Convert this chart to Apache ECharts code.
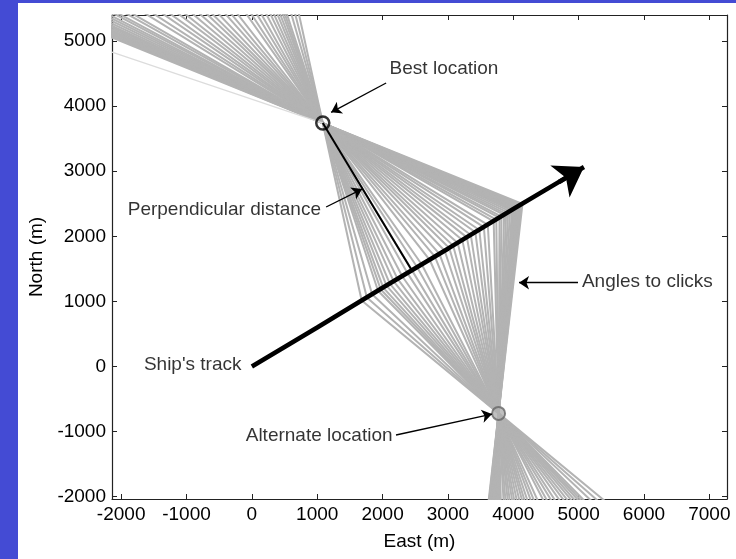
<!DOCTYPE html>
<html>
<head>
<meta charset="utf-8">
<script src="https://cdn.jsdelivr.net/npm/echarts@6/dist/echarts.min.js"></script>
<style>
html,body{margin:0;padding:0;background:#444bd4;width:736px;height:559px;overflow:hidden;}
#main{position:absolute;left:18px;top:3px;width:718px;height:556px;background:#fff;}
</style>
</head>
<body>
<div id="main"></div>
<script>
// ship track (m)
var track_x = [0, 1000, 2000, 3000, 4000, 4900];
var track_y = [0, 600, 1210, 1810, 2420, 2956];
// arrow head of the track
var head_from = [4700, 2835],
	head_to = [5081, 3065];

// the two candidate positions
var best_loc = [1085, 3740],
	alt_loc = [3775, -720];

// foot of the perpendicular on the track
var perp_foot = [2440, 1490];

// points on the track where clicks were heard
var click_x = [1680,1760,1840,1930,1970,2010,2060,2110,2170,2230,2300,2380,2450,2530,2600,2720,2800,2870,2950,3020,3080,3150,3220,3290,3350,3420,3480,3550,3610,3700,3740,3790,3820,3860,3890,3920,3950,3980,4000,4020,4040,4060,4080,4100,4120,4140];
var click_y = [1013,1061,1110,1164,1188,1212,1242,1272,1309,1345,1387,1435,1477,1526,1568,1640,1688,1731,1779,1821,1857,1899,1942,1984,2020,2062,2098,2141,2177,2231,2255,2285,2303,2328,2346,2364,2382,2400,2412,2424,2436,2448,2460,2472,2484,2496];

// faint single bearing in the upper left
var faint_x = [-2140, 1085],
	faint_y = [4830, 3740];

// annotation texts and where they sit
var note_text = ["Best location", "Perpendicular distance", "Angles to clicks", "Ship's track", "Alternate location"];
var note_x = [2940, -421, 6052, -905, 1029];
var note_y = [4570, 2404, 1298, 23, -1068];
// annotation arrows (from -> to)
var note_arrow_from = [[2054, 4355], [1136, 2450], [4990, 1287], [2206, -1052]];
var note_arrow_to = [[1213, 3905], [1686, 2726], [4088, 1287], [3674, -730]];

var x_min = -2140, x_max = 7270,
	y_min = -2035, y_max = 5400;

var FONT = "Liberation Sans, Arial, sans-serif";

var myChart = echarts.init(document.getElementById("main"));

// 每个click画两条线: 经过 best 和经过 alternate, 延长到图外
var series_list = [];
function add_bearing(tx, ty, loc){
	var far = [loc[0] + (loc[0] - tx) * 6, loc[1] + (loc[1] - ty) * 6];
	series_list.push({
		type: "line",
		data: [[tx, ty], loc, far],
		showSymbol: false,
		symbol: "none",
		clip: true,
		silent: true,
		lineStyle: {color: "#b3b3b3", width: 2},
		z: 1
	});
}
for (var i = 0; i < click_x.length; i++){
	add_bearing(click_x[i], click_y[i], best_loc);
	add_bearing(click_x[i], click_y[i], alt_loc);
}

series_list.push({
	type: "line",
	data: [[faint_x[0], faint_y[0]], [faint_x[1], faint_y[1]]],
	showSymbol: false,
	symbol: "none",
	silent: true,
	lineStyle: {color: "#dcdcdc", width: 1.2},
	z: 1
});

// ship track
var track_data = [];
for (var i = 0; i < track_x.length; i++){
	track_data.push([track_x[i], track_y[i]]);
}
series_list.push({
	type: "line",
	data: track_data,
	showSymbol: false,
	symbol: "none",
	lineStyle: {color: "#000", width: 4.5},
	z: 5
});
series_list.push({
	type: "lines",
	coordinateSystem: "cartesian2d",
	data: [{coords: [head_from, head_to]}],
	symbol: ["none", "arrow"],
	symbolSize: 28,
	lineStyle: {color: "#000", width: 4.5, opacity: 1},
	itemStyle: {color: "#000"},
	z: 6
});

// perpendicular distance
series_list.push({
	type: "line",
	data: [best_loc, perp_foot],
	showSymbol: false,
	symbol: "none",
	lineStyle: {color: "#000", width: 2},
	z: 4
});

// circles
series_list.push({
	type: "scatter",
	data: [best_loc],
	symbol: "circle",
	symbolSize: 13,
	itemStyle: {color: "rgba(0,0,0,0)", borderColor: "#000", borderWidth: 2.5},
	z: 7
});
series_list.push({
	type: "scatter",
	data: [alt_loc],
	symbol: "circle",
	symbolSize: 13,
	itemStyle: {color: "#b0b0b0", borderColor: "#666", borderWidth: 2},
	z: 7
});

// annotation arrows
var arrow_data = [];
for (var i = 0; i < note_arrow_from.length; i++){
	arrow_data.push({coords: [note_arrow_from[i], note_arrow_to[i]]});
}
series_list.push({
	type: "lines",
	coordinateSystem: "cartesian2d",
	data: arrow_data,
	symbol: ["none", "arrow"],
	symbolSize: 10,
	lineStyle: {color: "#000", width: 1.3, opacity: 1},
	itemStyle: {color: "#000"},
	z: 8
});

// annotation texts
var note_data = [];
for (var i = 0; i < note_text.length; i++){
	note_data.push({name: note_text[i], value: [note_x[i], note_y[i]]});
}
series_list.push({
	type: "scatter",
	data: note_data,
	symbolSize: 0,
	silent: true,
	label: {
		show: true,
		position: "inside",
		formatter: "{b}",
		color: "#000",
		textBorderWidth: 0,
		fontFamily: FONT,
		fontSize: 19
	},
	z: 9
});

function thousands(v){
	return (Math.abs(v % 1000) < 1e-6) ? String(v) : "";
}

var axis_common = {
	type: "value",
	minInterval: 1000,
	maxInterval: 1000,
	splitLine: {show: false},
	axisLine: {show: true, onZero: false, lineStyle: {color: "#222", width: 1.2}},
	axisTick: {show: true, inside: true, length: 5, lineStyle: {color: "#222", width: 1}}
};

option = {
	animation: false,
	grid: {left: 94, top: 12, width: 615, height: 484, containLabel: false},
	xAxis: [
		echarts.util.merge({
			position: "bottom",
			min: x_min, max: x_max,
			splitNumber: 9,
			name: "East (m)",
			nameLocation: "middle",
			nameGap: 33,
			nameTextStyle: {color: "#000", fontFamily: FONT, fontSize: 19},
			axisLabel: {color: "#000", fontFamily: FONT, fontSize: 19, margin: 6, formatter: thousands}
		}, axis_common, true),
		echarts.util.merge({
			position: "top",
			min: x_min, max: x_max,
			splitNumber: 9,
			axisLabel: {show: false}
		}, axis_common, true)
	],
	yAxis: [
		echarts.util.merge({
			position: "left",
			min: y_min, max: y_max,
			splitNumber: 7,
			name: "North (m)",
			nameLocation: "middle",
			nameGap: 65,
			nameTextStyle: {color: "#000", fontFamily: FONT, fontSize: 19},
			axisLabel: {color: "#000", fontFamily: FONT, fontSize: 19, margin: 6, formatter: thousands}
		}, axis_common, true),
		echarts.util.merge({
			position: "right",
			min: y_min, max: y_max,
			splitNumber: 7,
			axisLabel: {show: false}
		}, axis_common, true)
	],
	series: series_list
};

myChart.setOption(option);
</script>
</body>
</html>
